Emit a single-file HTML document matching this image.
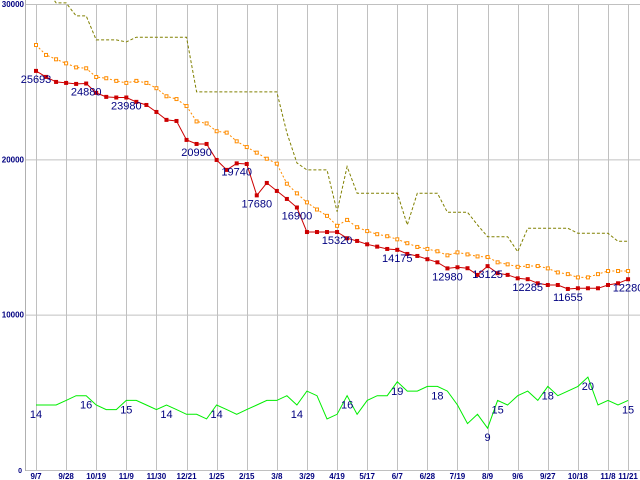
<!DOCTYPE html>
<html><head><meta charset="utf-8"><style>
html,body{margin:0;padding:0;background:#fff;}
svg{display:block;}
text{font-family:"Liberation Sans",sans-serif;}
</style></head><body>
<svg id="chart" width="640" height="480" xmlns="http://www.w3.org/2000/svg"></svg>
<script>
const dateLabels=["9/7","9/28","10/19","11/9","11/30","12/21","1/25","2/15","3/8","3/29","4/19","5/17","6/7","6/28","7/19","8/9","9/6","9/27","10/18","11/8","11/21"];
const dateIdx=[0,3,6,9,12,15,18,21,24,27,30,33,36,39,42,45,48,51,54,57,59];
const yTicks=[0,10000,20000,30000];
const minPrice=[25693,25306,24983,24919,24855,24880,24280,24020,23980,23980,23700,23500,23050,22540,22470,21250,20990,20990,19960,19320,19740,19700,17680,18480,17965,17450,16900,15320,15320,15320,15320,14920,14745,14530,14380,14230,14175,13910,13780,13570,13370,12980,13050,12990,12560,13125,12670,12560,12340,12285,12020,11910,11910,11655,11700,11700,11700,11910,12020,12280];
const avgPrice=[27360,26720,26440,26180,25920,25860,25300,25220,25050,24920,25050,24920,24580,24060,23880,23430,22440,22310,21810,21720,21160,20790,20430,20040,19720,18430,17810,17230,16770,16360,15720,16100,15630,15380,15180,15050,14850,14600,14360,14230,14080,13820,14010,13880,13750,13710,13370,13240,13080,13130,13130,12980,12720,12610,12400,12400,12610,12810,12810,12810];
const maxPrice=[31000,31000,30070,30070,29233,29233,27688,27688,27688,27560,27862,27862,27862,27862,27862,27862,24340,24340,24340,24340,24340,24340,24340,24340,24340,21700,19770,19320,19320,19320,16632,19530,17817,17817,17817,17817,17817,15776,17817,17817,17817,16593,16593,16593,15776,15022,15022,15022,14056,15563,15563,15563,15563,15563,15241,15241,15241,15241,14726,14726];
const counts=[14,14,14,15,16,16,14,13,13,15,15,14,13,14,13,12,12,11,14,13,12,13,14,15,15,16,14,17,16,11,12,16,12,15,16,16,19,17,17,18,18,17,14,10,12,9,15,14,16,17,15,18,16,17,18,20,14,15,14,15];
const minLabelIdx=[0,5,9,16,20,22,26,30,36,41,45,49,53,59];
const countLabelIdx=[0,5,9,13,18,26,31,36,40,45,46,51,55,59];

const NS="http://www.w3.org/2000/svg";
const svg=document.getElementById('chart');
function x(i){return 36+i*10.035;}
function y(v){return 470-v*466/30000;}
function yc(c){return 470-c*4.643;}
function el(tag,attrs,parent){const e=document.createElementNS(NS,tag);for(const k in attrs)e.setAttribute(k,attrs[k]);(parent||svg).appendChild(e);return e;}

const defs=el('defs',{});
const cp=el('clipPath',{id:'plot'},defs);
el('rect',{x:25,y:0,width:615,height:471},cp);

const grid=el('g',{});


yTicks.forEach(v=>{
  const l=el('line',{x1:25,x2:640,y1:y(v)+0.5,y2:y(v)+0.5,stroke:'#c0c0c0','stroke-width':1},grid);
  
  
  const t=el('text',{x:v===0?22:24,y:y(v)+3,'text-anchor':'end','font-size':v===0?7:8,'font-weight':'bold',fill:'#000080'});
  t.textContent=String(v);
  
  
});
el('line',{x1:25.5,x2:25.5,y1:0,y2:471,stroke:'#b0b0b0'},grid);
dateIdx.forEach((d,k)=>{
  const xx=Math.round(x(d))+0.5;
  const l=el('line',{x1:xx,x2:xx,y1:4,y2:471,stroke:'#c0c0c0'},grid);
  
  
  const t=el('text',{x:x(d),y:479,'text-anchor':'middle','font-size':8,'font-weight':'bold',fill:'#000080'});
  t.textContent=dateLabels[k];
  
  
});

function pts(arr,f){return arr.map((v,i)=>x(i).toFixed(1)+','+f(v).toFixed(1)).join(' ');}

const gMax=el('polyline',{points:pts(maxPrice,y),fill:'none',stroke:'#808000','stroke-width':1,'stroke-dasharray':'3,2','clip-path':'url(#plot)'});



const gAvg=el('polyline',{points:pts(avgPrice,y),fill:'none',stroke:'#ff8c00','stroke-width':1,'stroke-dasharray':'2,2'});


avgPrice.forEach((v,i)=>{
  const r=el('rect',{x:x(i)-1.5,y:y(v)-1.5,width:3,height:3,fill:'#fff',stroke:'#ff8c00','stroke-width':1});
  
  
});

const gMin=el('polyline',{points:pts(minPrice,y),fill:'none',stroke:'#cc0000','stroke-width':1});


minPrice.forEach((v,i)=>{
  const r=el('rect',{x:x(i)-2,y:y(v)-2,width:4,height:4,fill:'#cc0000'});
  
  
});

const gCnt=el('polyline',{points:pts(counts,yc),fill:'none',stroke:'#00ee00','stroke-width':1});



minLabelIdx.forEach(i=>{
  const t=el('text',{x:x(i),y:y(minPrice[i])+12,'text-anchor':'middle','font-size':11,fill:'#000080'});
  t.textContent=String(minPrice[i]);
  
  
});
countLabelIdx.forEach(i=>{
  const t=el('text',{x:x(i),y:yc(counts[i])+13,'text-anchor':'middle','font-size':11,fill:'#000080'});
  t.textContent=String(counts[i]);
  
  
});
</script>
</body></html>
